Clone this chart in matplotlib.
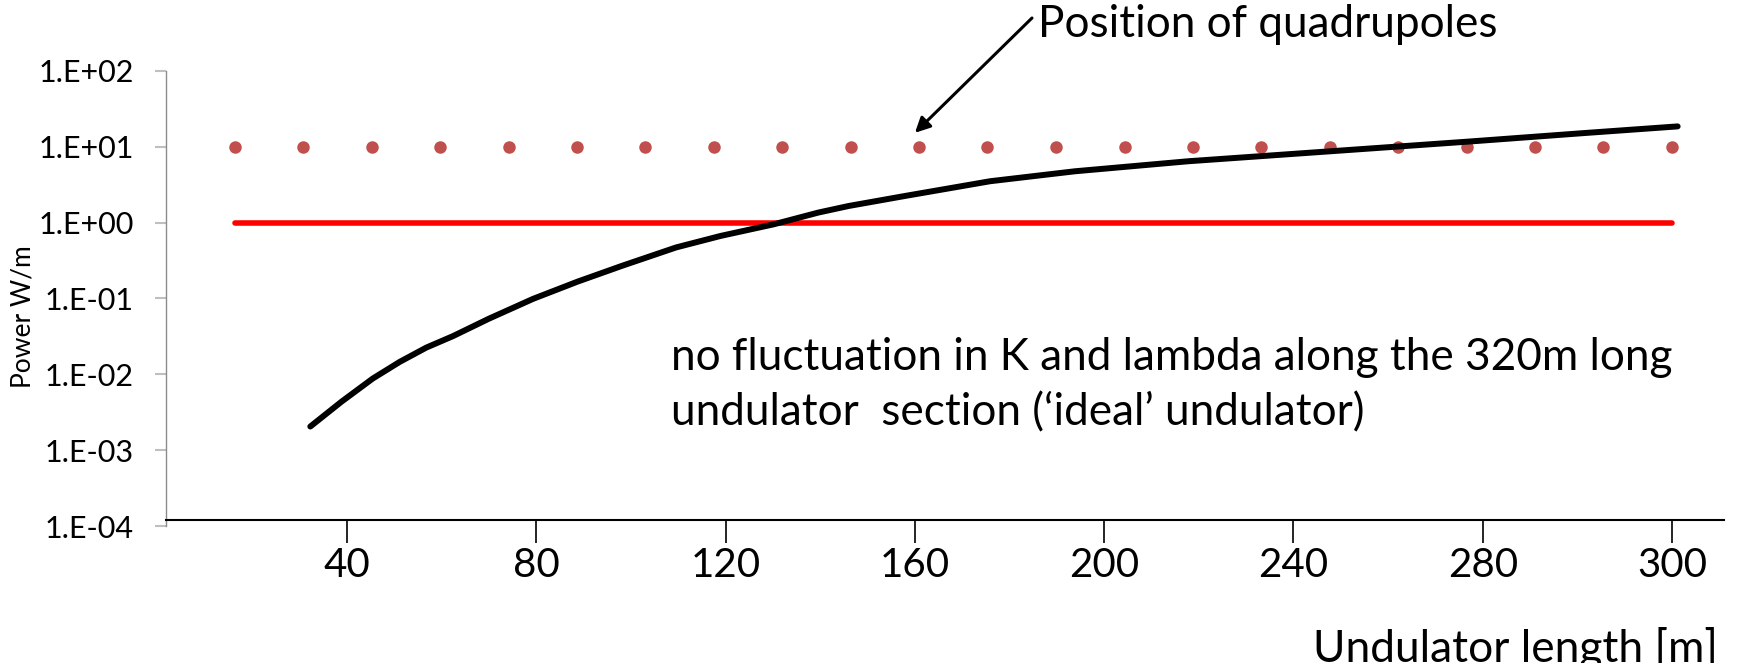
import numpy as np
import matplotlib
matplotlib.use("Agg")
import matplotlib.pyplot as plt

plt.rcParams['font.family'] = ['Lato', 'DejaVu Sans']

# undulator length [m] vs. radiated power [W/m]
curve_x = [32.2, 38.8, 45.4, 51.1, 56.7, 62.4, 69.9, 79.3, 88.7, 98.1, 109.5, 118.9,
           130.2, 139.6, 146.0, 157.9, 175.9, 193.8, 217.7, 247.7, 277.6, 301.5, 321.2]
curve_y = [2.05e-3, 4.36e-3, 8.8e-3, 1.46e-2, 2.25e-2, 3.2e-2, 5.4e-2, 9.9e-2, 0.167,
           0.27, 0.471, 0.668, 0.953, 1.36, 1.66, 2.25, 3.52, 4.76, 6.45, 8.73, 11.8,
           15.2, 18.6]

# quadrupole positions (drawn at 10 W/m)
quad_x = [16.2, 30.7, 45.2, 59.6, 74.1, 88.5, 103.0, 117.5, 131.9, 146.4, 160.9,
          175.3, 189.8, 204.3, 218.7, 233.2, 247.7, 262.1, 276.6, 291.0, 305.5, 320.0]
quad_level = 10.0

# 1 W/m reference line
ref_x = [16.2, 320.0]
ref_level = 1.0

x_ticks = [40, 80, 120, 160, 200, 240, 280, 320]
x_tick_labels = ['40', '80', '120', '160', '200', '240', '280', '300']
y_ticks = [1e-4, 1e-3, 1e-2, 1e-1, 1e0, 1e1, 1e2]
y_tick_labels = ['1.E-04', '1.E-03', '1.E-02', '1.E-01', '1.E+00', '1.E+01', '1.E+02']

W, H = 1738, 663
fig = plt.figure(figsize=(W / 100, H / 100), dpi=100)
ax = fig.add_axes([166 / W, 1 - 526 / H, (1724 - 166) / W, (526 - 71) / H])

ax.set_yscale('log')
ax.set_xlim(1.7, 331)
ax.set_ylim(1e-4, 1e2)

ax.plot(ref_x, [ref_level] * len(ref_x), color='#ff0000', lw=4, solid_capstyle='round')
ax.plot(quad_x, [quad_level] * len(quad_x), 'o', color='#c0504d', ms=9, mec='none')
ax.plot(curve_x, curve_y, color='black', lw=4.3, solid_capstyle='round',
        solid_joinstyle='round')

# axes styling
for s in ['top', 'right']:
    ax.spines[s].set_visible(False)
ax.spines['left'].set_color('#8c8c8c')
ax.spines['left'].set_linewidth(1)
ax.spines['bottom'].set_position(('data', 1.2e-4))
ax.spines['bottom'].set_color('black')
ax.spines['bottom'].set_linewidth(1.5)

ax.set_yticks(y_ticks)
ax.set_yticklabels(y_tick_labels)
ax.yaxis.set_minor_locator(matplotlib.ticker.NullLocator())
ax.tick_params(axis='y', which='major', length=8, width=1.5, color='#bfbfbf',
               labelsize=22, pad=15)

ax.set_xticks(x_ticks)
ax.set_xticklabels(x_tick_labels)
ax.tick_params(axis='x', which='major', length=16.5, width=1.2, color='black',
               labelsize=29, pad=3)

# texts
fig.text(23 / W, 1 - 317 / H, 'Power W/m', rotation=90, ha='center', va='center',
         fontsize=19)
t_quad = fig.text(1038 / W, 1 - 37 / H, 'Position of quadrupoles', fontsize=30,
                  va='baseline')
t_line1 = fig.text(671 / W, 1 - 370 / H,
                   'no fluctuation in K and lambda along the 320m long',
                   fontsize=30, va='baseline')
t_line2 = fig.text(671 / W, 1 - 425 / H,
                   'undulator  section (\u2018ideal\u2019 undulator)',
                   fontsize=30, va='baseline')
t_xlab = fig.text(1313 / W, 1 - 662 / H, 'Undulator length [m]', fontsize=30,
                  va='baseline')

# scale the free texts so their widths match the slide
renderer = fig.canvas.get_renderer()


def fit_width(txt, target_px):
    w = txt.get_window_extent(renderer=renderer).width
    txt.set_fontsize(txt.get_fontsize() * target_px / w)


fit_width(t_quad, 459)
fit_width(t_line1, 1001)
t_line2.set_fontsize(t_line1.get_fontsize())
fit_width(t_xlab, 404)

# arrow pointing at one quadrupole
ax.annotate('', xy=(160.0, 15.3), xycoords='data',
            xytext=(1032, H - 18), textcoords='figure pixels',
            arrowprops=dict(arrowstyle='-|>,head_length=0.9,head_width=0.45',
                            color='black', lw=2.2, shrinkA=0, shrinkB=0))

fig.savefig('out.png', dpi=100)
